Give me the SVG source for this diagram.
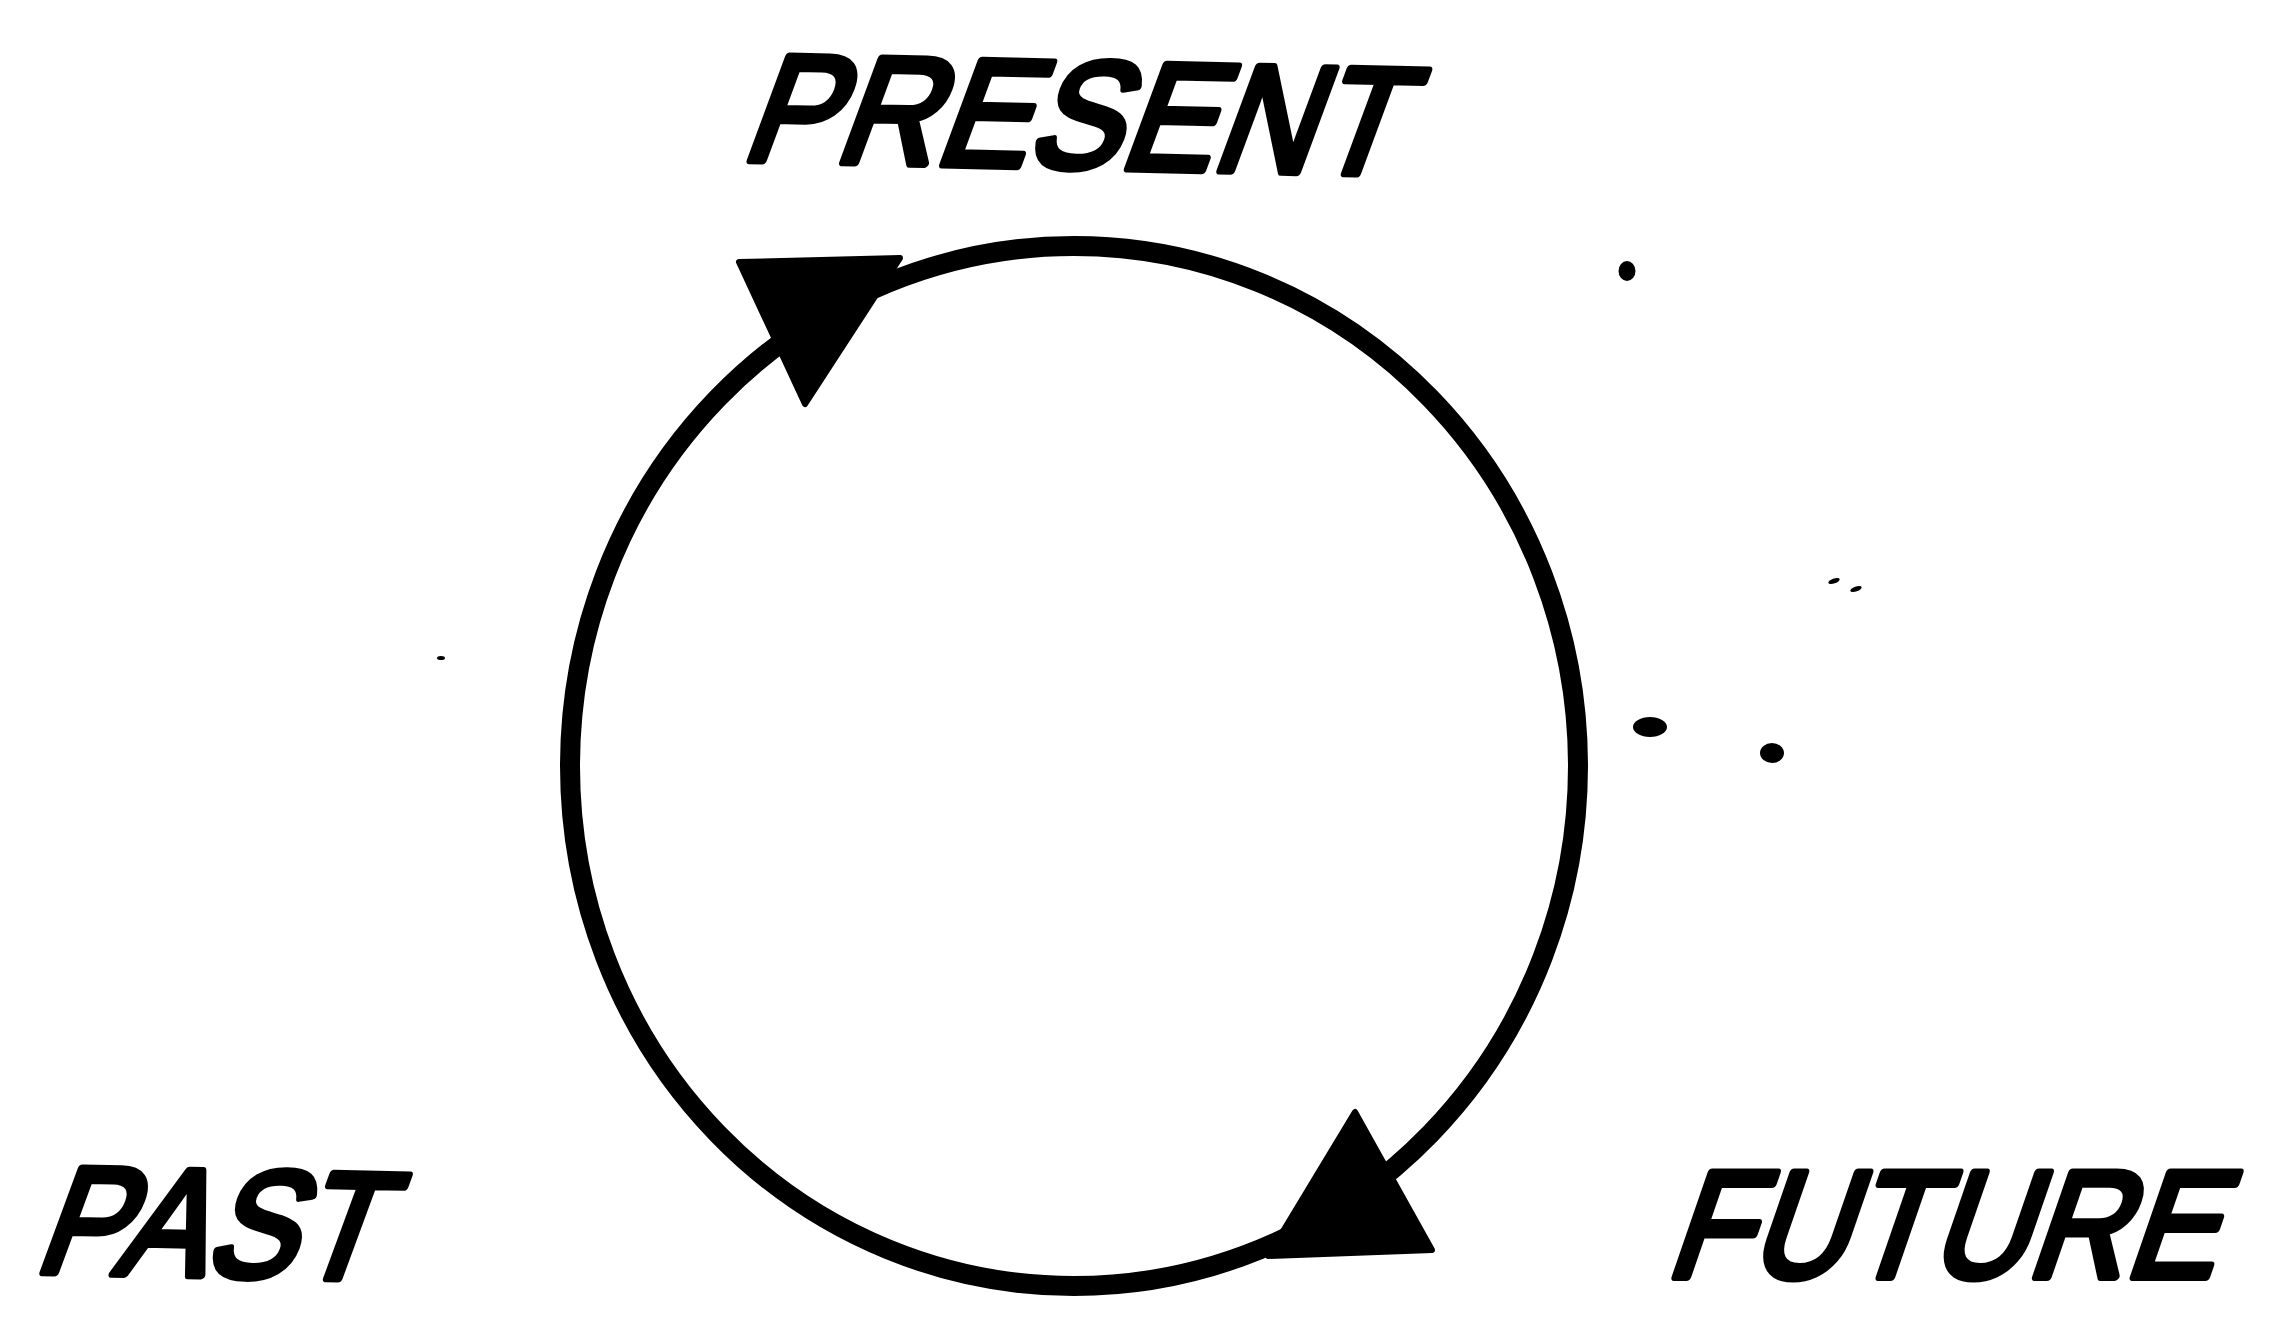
<svg xmlns="http://www.w3.org/2000/svg" width="2269" height="1340" viewBox="0 0 2269 1340">
  <style>
    .label { font-family: "Liberation Sans", Arial, sans-serif; font-size: 152px; fill: #000; stroke: #000; stroke-width: 8px; stroke-linejoin: round; }
    .ring { fill: none; stroke: #000; stroke-width: 20; }
    .head { fill: #000; stroke: #000; stroke-width: 6; stroke-linejoin: round; }
    .speck { fill: #000; }
  </style>
  <rect width="2269" height="1340" fill="#fff"/>

  <g id="connectors">
    <ellipse class="ring" cx="1074" cy="766" rx="504" ry="520"/>
    <polygon class="head" points="739,262 900,258 805,404"/>
    <polygon class="head" points="1355,1112 1268,1256 1432,1250"/>
  </g>

  <g id="node-present">
    <text class="label" transform="translate(739,160) rotate(1.25) skewX(-19) scale(0.912,1)" x="0" y="0">PRESENT</text>
  </g>
  <g id="node-past">
    <text class="label" transform="translate(32,1272) rotate(1.2) skewX(-19) scale(0.887,1)" x="0" y="0">PAST</text>
  </g>
  <g id="node-future">
    <text class="label" transform="translate(1664,1277) skewX(-19) scale(0.89,1)" x="0" y="0">FUTURE</text>
  </g>

  <g id="specks">
    <ellipse class="speck" cx="1627" cy="271" rx="8.5" ry="10"/>
    <ellipse class="speck" cx="1834" cy="581" rx="6" ry="2.5" transform="rotate(-20 1834 581)"/>
    <ellipse class="speck" cx="1856" cy="589" rx="6" ry="2.5" transform="rotate(-20 1856 589)"/>
    <ellipse class="speck" cx="1650" cy="727" rx="17" ry="10"/>
    <ellipse class="speck" cx="1772" cy="753" rx="12" ry="10"/>
    <ellipse class="speck" cx="441" cy="658" rx="4" ry="2"/>
  </g>
</svg>
